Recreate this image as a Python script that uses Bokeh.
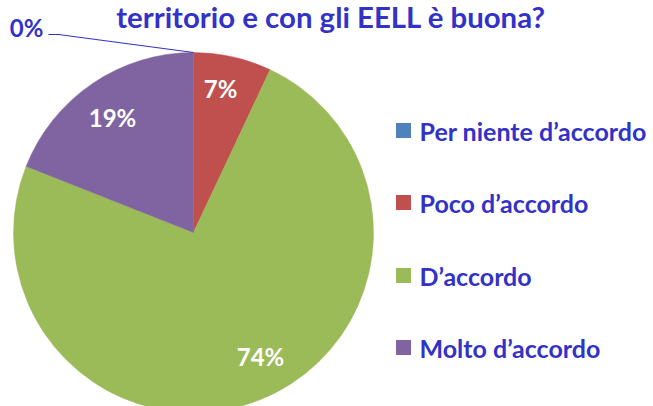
import math
from bokeh.plotting import figure
from bokeh.models import Range1d
from bokeh.core.properties import value
from bokeh.embed import file_html
from bokeh.resources import INLINE

categories = ["Per niente d’accordo", "Poco d’accordo", "D’accordo", "Molto d’accordo"]
values = [0, 7, 74, 19]
labels = ["0%", "7%", "74%", "19%"]
colors = ["#4F81BD", "#C0504D", "#9BBB59", "#8064A2"]
title_text = "territorio e con gli EELL è buona?"

H = 406
PW, PH = 653, 406
p = figure(width=PW, height=PH, output_backend="svg", toolbar_location=None,
           x_range=Range1d(0, PW), y_range=Range1d(H - PH, H), min_border=0)
p.axis.visible = False
p.grid.visible = False
p.outline_line_color = None
p.background_fill_color = "white"

FONT = value("Lato")
BLUE = "#3232C8"

def Y(y):
    return H - y

# pie
cx, cy, r = 193, Y(232), 180
total = sum(values)
cum = 0.0
starts, ends = [], []
for v in values:
    a0 = math.pi / 2 - 2 * math.pi * (cum + v) / total
    a1 = math.pi / 2 - 2 * math.pi * cum / total
    starts.append(a0)
    ends.append(a1)
    cum += v
for s, e, c, v in zip(starts, ends, colors, values):
    if v > 0:
        p.wedge(x=cx, y=cy, radius=r, start_angle=s, end_angle=e,
                fill_color=c, line_color=c, line_width=0.5)

# slice labels
lab_pos = {"7%": (220, 88), "74%": (260, 356), "19%": (112, 117)}
for lab in labels[1:]:
    x, y = lab_pos[lab]
    p.text(x=[x], y=[Y(y)], text=[lab], text_color="white", text_font=FONT,
           text_font_style="bold", text_font_size="24px",
           text_align="center", text_baseline="middle")

# 0% label with leader line
p.line(x=[48, 58, 193], y=[Y(34), Y(34), Y(52)], line_color=BLUE, line_width=1.2)
p.text(x=[26], y=[Y(27)], text=["0%"], text_color=BLUE, text_font=FONT,
       text_font_style="bold", text_font_size="24px",
       text_align="center", text_baseline="middle")

# title
p.text(x=[330.5], y=[Y(16)], text=[title_text], text_color=BLUE, text_font=FONT,
       text_font_style="bold", text_font_size="29.4px",
       text_align="center", text_baseline="middle")

# legend
ly = [130, 202, 275, 347]
for cat, c, y in zip(categories, colors, ly):
    p.rect(x=[403], y=[Y(y)], width=15, height=15, fill_color=c, line_color=None)
    p.text(x=[419], y=[Y(y)], text=[cat], text_color=BLUE, text_font=FONT,
           text_font_style="bold", text_font_size="25px",
           text_align="left", text_baseline="middle")

open("out.html", "w").write(file_html(p, INLINE))
